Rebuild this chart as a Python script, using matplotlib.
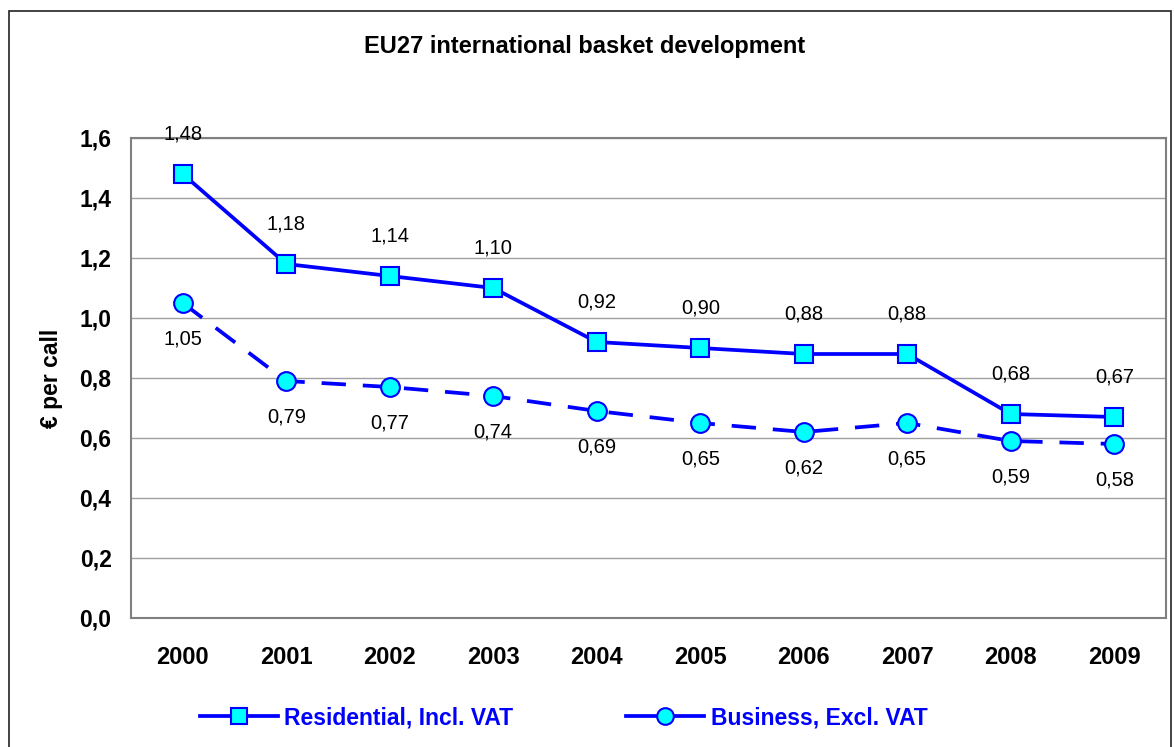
import matplotlib
matplotlib.use("Agg")
import matplotlib.pyplot as plt
from matplotlib.patches import Rectangle

plt.rcParams['font.family'] = ['Liberation Sans', 'DejaVu Sans']

years = ["2000", "2001", "2002", "2003", "2004", "2005", "2006", "2007", "2008", "2009"]
residential = [1.48, 1.18, 1.14, 1.10, 0.92, 0.90, 0.88, 0.88, 0.68, 0.67]
business = [1.05, 0.79, 0.77, 0.74, 0.69, 0.65, 0.62, 0.65, 0.59, 0.58]
yticks = [0.0, 0.2, 0.4, 0.6, 0.8, 1.0, 1.2, 1.4, 1.6]

W, H = 1174, 747
fig = plt.figure(figsize=(W / 100, H / 100), dpi=100)
ax = fig.add_axes([131 / W, 1 - 618 / H, (1166 - 131) / W, (618 - 138) / H])

# outer chart border
fig.patches.append(Rectangle((9 / W, -0.05), (1171 - 9) / W, 1.05 - 11 / H,
                             transform=fig.transFigure, fill=False,
                             edgecolor='#222222', linewidth=1.2))

x = list(range(len(years)))
blue = '#0000ff'
cyan = '#00ffff'

ax.plot(x, residential, color=blue, lw=2.7, marker='s', ms=13,
        mfc=cyan, mec=blue, mew=1.5, label='Residential, Incl. VAT', zorder=4)
ax.plot(x, business, color=blue, lw=2.7, ls=(0, (6.5, 4.5)), marker='o', ms=13.5,
        mfc=cyan, mec=blue, mew=1.5, label='Business, Excl. VAT', zorder=4)

for xi, v in zip(x, residential):
    ax.annotate(f"{v:.2f}".replace('.', ','), (xi, v), xytext=(0, 29),
                textcoords='offset points', ha='center', va='center', fontsize=14.5)
for xi, v in zip(x, business):
    ax.annotate(f"{v:.2f}".replace('.', ','), (xi, v), xytext=(0, -26),
                textcoords='offset points', ha='center', va='center', fontsize=14.5)

ax.set_xlim(-0.5, len(years) - 0.5)
ax.set_ylim(0, 1.6)
ax.set_xticks(x)
ax.set_xticklabels(years, fontsize=17, fontweight='bold')
ax.set_yticks(yticks)
ax.set_yticklabels([f"{t:.1f}".replace('.', ',') for t in yticks],
                   fontsize=16.5, fontweight='bold')
ax.tick_params(length=0, pad=14)
ax.tick_params(axis='x', pad=20)
ax.grid(axis='y', color='#a0a0a0', lw=1)
ax.set_axisbelow(True)
for s in ax.spines.values():
    s.set_color('#808080')
    s.set_linewidth(1.5)

ax.set_ylabel('€ per call', fontsize=16.5, fontweight='bold', labelpad=12)
fig.text(0.498, 1 - 46 / H, 'EU27 international basket development',
         ha='center', va='center', fontsize=17, fontweight='bold')

leg = fig.legend(loc='center', bbox_to_anchor=(0.480, 1 - 718 / H), ncol=2,
                 frameon=False, handlelength=3.4, handletextpad=0.3,
                 columnspacing=4.9, prop={'size': 16.5, 'weight': 'bold'})
for t in leg.get_texts():
    t.set_color(blue)
for h in leg.legend_handles:
    h.set_linestyle('-')
    h.set_markersize(12)

fig.savefig('out.png', dpi=100)
